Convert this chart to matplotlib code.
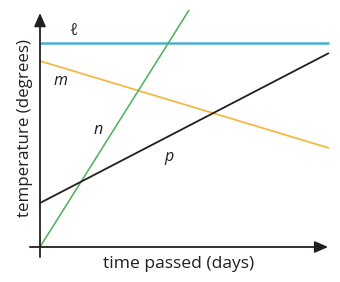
import matplotlib
matplotlib.use('Agg')
import matplotlib.pyplot as plt

# chart data (arbitrary units: time 0..10, temperature 0..10)
line_names = ['ℓ', 'm', 'n', 'p']
line_x = [[0, 10], [0, 10], [0, 5.16], [0, 10]]
line_y = [[8.72, 8.72], [7.95, 4.23], [0.0, 10.13], [1.88, 8.29]]
line_colors = ['#4aaed3', '#f4b843', '#4caf57', '#231f20']
line_widths = [1.8, 1.3, 1.1, 1.3]
label_pos = [(1.15, 9.25), (0.7, 7.1), (2.0, 5.0), (4.45, 3.85)]

x_label = 'time passed (days)'
y_label = 'temperature (degrees)'

plt.rcParams['font.family'] = ['Open Sans', 'DejaVu Sans']

fig = plt.figure(figsize=(3.4, 2.82), dpi=100)
ax = fig.add_axes([0, 0, 1, 1])
ax.set_xlim(-1.384, 10.381)
ax.set_ylim(-1.496, 10.556)
ax.axis('off')

for xs, ys, c, lw in zip(line_x, line_y, line_colors, line_widths):
    ax.plot(xs, ys, color=c, lw=lw, solid_capstyle='butt')

for name, (lx, ly) in zip(line_names, label_pos):
    ax.text(lx, ly, name, fontsize=11.5, style='italic', ha='center', va='center',
            color='#231f20')

# axes with arrow heads
arrow = dict(arrowstyle='-|>,head_length=0.8,head_width=0.35', color='#231f20',
             lw=1.3, shrinkA=0, shrinkB=0)
ax.annotate('', xy=(0, 10.0), xytext=(0, -0.43), arrowprops=arrow)
ax.annotate('', xy=(9.97, 0), xytext=(-0.35, 0), arrowprops=arrow)

ax.text(4.81, -0.74, x_label, fontsize=12.6, ha='center', va='center', color='#231f20')
ax.text(-0.52, 5.1, y_label, fontsize=12.2, ha='center', va='center',
        rotation=90, color='#231f20')

fig.savefig('out.png', dpi=100)
